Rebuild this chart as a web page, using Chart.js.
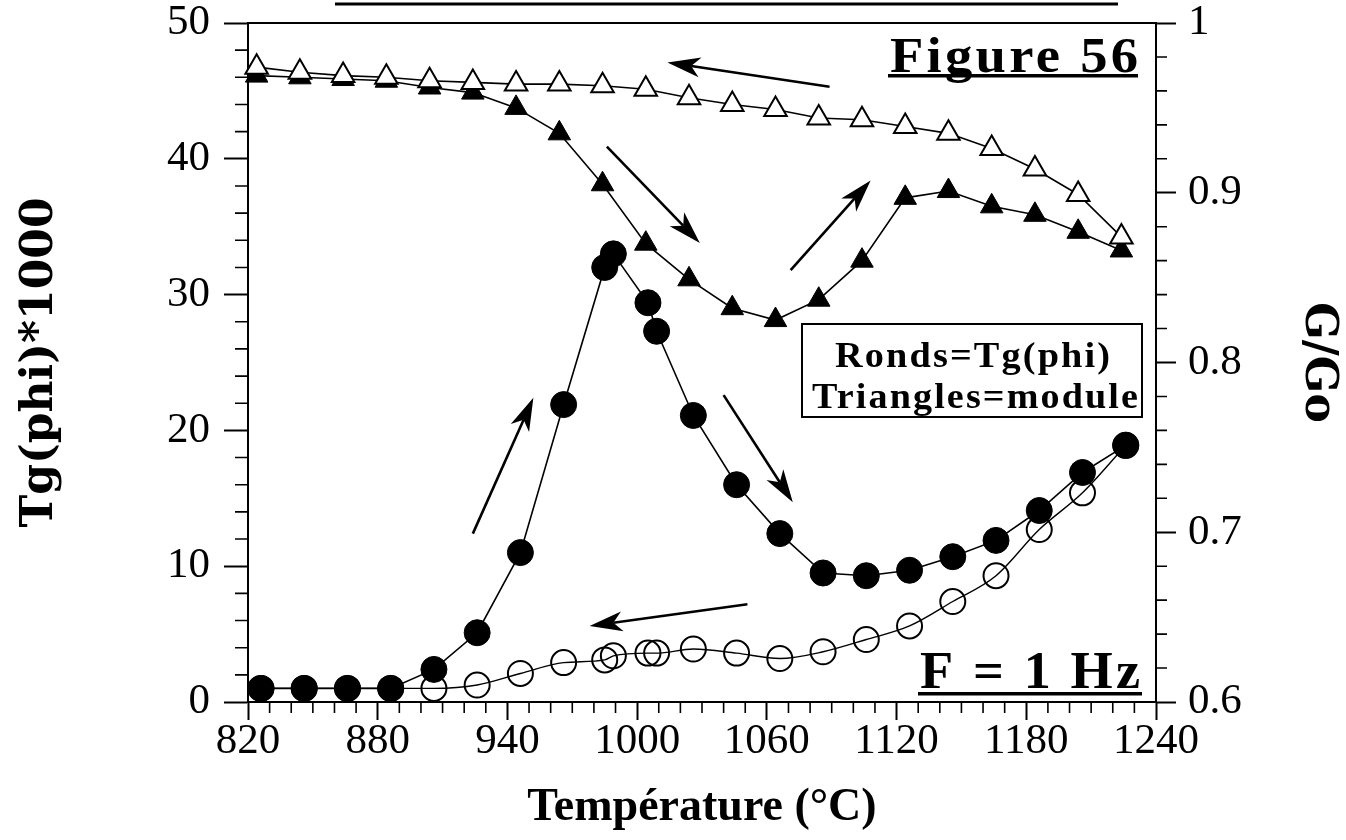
<!DOCTYPE html>
<html>
<head>
<meta charset="utf-8">
<script src="https://cdn.jsdelivr.net/npm/chart.js@4.4.1/dist/chart.umd.min.js"></script>
<style>
  html, body { margin: 0; padding: 0; background: #fff; }
  #wrap { width: 1346px; height: 840px; position: relative; }
</style>
</head>
<body>
<div id="wrap"><canvas id="c"></canvas></div>
<script>
// Internal friction Tg(phi) (left axis, x1000) and relative modulus G/Go (right axis)
// versus temperature, heating (filled marks) and cooling (open marks), F = 1 Hz.
const tempCircles   = [826, 846, 866, 886, 906, 926, 946, 966, 985, 989, 1005, 1009, 1026, 1046, 1066, 1086, 1106, 1126, 1146, 1166, 1186, 1206, 1226];
const tgPhiHeating  = [1.0, 1.0, 1.0, 1.0, 2.4, 5.1, 11.0, 21.9, 32.0, 33.0, 29.4, 27.3, 21.1, 16.0, 12.4, 9.5, 9.3, 9.7, 10.7, 11.9, 14.1, 16.9, 18.9];
const tgPhiCooling  = [1.0, 1.0, 1.0, 1.0, 1.0, 1.25, 2.1, 2.9, 3.1, 3.4, 3.6, 3.6, 3.9, 3.6, 3.2, 3.7, 4.6, 5.6, 7.4, 9.3, 12.7, 15.4, 18.9];

const tempTriangles = [824, 844, 864, 884, 904, 924, 944, 964, 984, 1004, 1024, 1044, 1064, 1084, 1104, 1124, 1144, 1164, 1184, 1204, 1224];
const moduleHeating = [0.969, 0.968, 0.967, 0.966, 0.962, 0.959, 0.950, 0.935, 0.905, 0.870, 0.849, 0.832, 0.825, 0.837, 0.860, 0.897, 0.901, 0.892, 0.887, 0.877, 0.866];
const moduleCooling = [0.974, 0.971, 0.969, 0.968, 0.966, 0.965, 0.964, 0.964, 0.963, 0.961, 0.956, 0.952, 0.949, 0.944, 0.943, 0.939, 0.935, 0.926, 0.914, 0.899, 0.874];

// Axis tick labels
const tempLabels  = [820, 880, 940, 1000, 1060, 1120, 1180, 1240];
const tgLabels    = [0, 10, 20, 30, 40, 50];
const ratioLabels = ['0.6', '0.7', '0.8', '0.9', '1'];

// Direction-of-run arrows, in (temperature, Tg(phi)*1000) units: [from T, from v, to T, to v]
const runArrows = [
  [1089, 45.3, 1014, 47.1],
  [986, 40.9, 1029, 33.8],
  [1071, 31.8, 1108, 38.4],
  [924, 12.4, 952, 22.4],
  [1040, 22.6, 1072, 14.7],
  [1051, 7.2, 978, 5.6]
];

const pts = (xs, ys) => xs.map((x, i) => ({ x: x, y: ys[i] }));

const isTempLabel  = v => tempLabels.includes(Math.round(v));
const isTgLabel    = v => tgLabels.includes(Math.round(v));
const ratioText    = v => { const k = Math.round(v * 100); const t = (k / 100).toString(); return ratioLabels.includes(t) ? t : null; };

const serif = '"Liberation Serif", "Times New Roman", serif';
const wideSerif = '"DejaVu Serif", "Liberation Serif", serif';

// draw text squeezed or stretched horizontally to a given width, right edge at xRight
function fittedText(ctx, text, font, xRight, baseline, width, spacing) {
  ctx.save();
  ctx.font = font;
  ctx.letterSpacing = spacing + 'px';
  const w = ctx.measureText(text).width - spacing;
  const sx = width / w;
  ctx.translate(xRight - width, baseline);
  ctx.scale(sx, 1);
  ctx.textAlign = 'left';
  ctx.textBaseline = 'alphabetic';
  ctx.fillText(text, 0, 0);
  ctx.restore();
}

function arrow(ctx, x0, y0, x1, y1) {
  const ang = Math.atan2(y1 - y0, x1 - x0);
  const len = 33, half = 10, notch = 24;
  ctx.save();
  ctx.lineWidth = 2.6;
  ctx.beginPath();
  ctx.moveTo(x0, y0);
  ctx.lineTo(x1 - Math.cos(ang) * notch, y1 - Math.sin(ang) * notch);
  ctx.stroke();
  ctx.translate(x1, y1);
  ctx.rotate(ang);
  ctx.beginPath();
  ctx.moveTo(0, 0);
  ctx.lineTo(-len, -half);
  ctx.lineTo(-notch, 0);
  ctx.lineTo(-len, half);
  ctx.closePath();
  ctx.fill();
  ctx.restore();
}

const decorations = {
  id: 'decorations',
  afterDraw(chart) {
    const { ctx, chartArea: a, scales } = chart;
    const sx = scales.x, sy = scales.y, sy1 = scales.y1;
    ctx.save();
    ctx.strokeStyle = '#000';
    ctx.fillStyle = '#000';

    // top edge of the frame
    ctx.lineWidth = 2;
    ctx.beginPath();
    ctx.moveTo(a.left, a.top);
    ctx.lineTo(a.right, a.top);
    ctx.stroke();

    // minor ticks
    ctx.lineWidth = 1.6;
    ctx.beginPath();
    for (let v = 830; v < 1240; v += 10) {
      if (isTempLabel(v)) continue;
      const p = sx.getPixelForValue(v);
      ctx.moveTo(p, a.bottom); ctx.lineTo(p, a.bottom + 11);
    }
    for (let v = 2; v < 50; v += 2) {
      if (v % 10 === 0) continue;
      const p = sy.getPixelForValue(v);
      ctx.moveTo(a.left, p); ctx.lineTo(a.left - 13, p);
    }
    for (let k = 31; k < 50; k++) {
      if (k % 5 === 0) continue;
      const p = sy1.getPixelForValue(k / 50);
      ctx.moveTo(a.right, p); ctx.lineTo(a.right + 11, p);
    }
    ctx.stroke();

    // run direction arrows
    runArrows.forEach(r => {
      arrow(ctx, sx.getPixelForValue(r[0]), sy.getPixelForValue(r[1]),
                 sx.getPixelForValue(r[2]), sy.getPixelForValue(r[3]));
    });

    // underline of the page heading above the frame
    ctx.lineWidth = 3;
    ctx.beginPath();
    ctx.moveTo(335, 4); ctx.lineTo(1118, 4);
    ctx.stroke();

    // figure number
    fittedText(ctx, 'Figure 56', 'bold 50px ' + serif, 1138, 72, 248, 3);
    ctx.fillRect(888, 74, 250, 3.5);

    // frequency
    fittedText(ctx, 'F = 1 Hz', 'bold 52px ' + serif, 1140, 688, 220, 3);
    ctx.fillRect(918, 692, 224, 3.5);

    // key
    ctx.lineWidth = 2;
    ctx.fillStyle = '#fff';
    ctx.fillRect(802, 324, 340, 93);
    ctx.strokeRect(802, 324, 340, 93);
    ctx.fillStyle = '#000';
    fittedText(ctx, 'Ronds=Tg(phi)', 'bold 36px ' + serif, 1110, 367, 275, 2);
    fittedText(ctx, 'Triangles=module', 'bold 36px ' + serif, 1138, 408, 326, 2);

    ctx.restore();
  }
};

const tickFont = { family: serif, size: 43 };
const noVerticalOverflow = s => { s.paddingTop = 0; s.paddingBottom = 0; };

new Chart(document.getElementById('c'), {
  type: 'line',
  data: {
    datasets: [
      {
        label: 'Tg(phi) chauffage',
        data: pts(tempCircles, tgPhiHeating),
        yAxisID: 'y',
        order: 3,
        borderColor: '#000', borderWidth: 1.6,
        pointStyle: 'circle', pointRadius: 13, pointHoverRadius: 13,
        pointBackgroundColor: '#000', pointBorderColor: '#000', pointBorderWidth: 1,
        tension: 0, clip: false
      },
      {
        label: 'Tg(phi) refroidissement',
        data: pts(tempCircles, tgPhiCooling),
        yAxisID: 'y',
        order: 4,
        borderColor: '#000', borderWidth: 1.4,
        pointStyle: 'circle', pointRadius: 12.5, pointHoverRadius: 12.5,
        pointBackgroundColor: 'rgba(0,0,0,0)', pointBorderColor: '#000', pointBorderWidth: 2,
        cubicInterpolationMode: 'monotone', clip: false
      },
      {
        label: 'G/Go chauffage',
        data: pts(tempTriangles, moduleHeating),
        yAxisID: 'y1',
        order: 2,
        borderColor: '#000', borderWidth: 1.6,
        pointStyle: 'triangle', pointRadius: 13, pointHoverRadius: 13,
        pointBackgroundColor: '#000', pointBorderColor: '#000', pointBorderWidth: 1,
        tension: 0, clip: false
      },
      {
        label: 'G/Go refroidissement',
        data: pts(tempTriangles, moduleCooling),
        yAxisID: 'y1',
        order: 1,
        borderColor: '#000', borderWidth: 1.6,
        pointStyle: 'triangle', pointRadius: 13, pointHoverRadius: 13,
        pointBackgroundColor: '#fff', pointBorderColor: '#000', pointBorderWidth: 2,
        tension: 0, clip: false
      }
    ]
  },
  options: {
    responsive: true,
    maintainAspectRatio: false,
    animation: false,
    events: [],
    layout: { padding: { top: 23, left: 0, right: 0, bottom: 0 } },
    plugins: { legend: { display: false }, tooltip: { enabled: false }, title: { display: false } },
    scales: {
      x: {
        type: 'linear', position: 'bottom', min: 820, max: 1240,
        afterFit: s => { s.height = 138; s.paddingLeft = 0; s.paddingRight = 0; },
        border: { display: true, color: '#000', width: 2 },
        grid: {
          drawOnChartArea: false, drawTicks: true, tickLength: 18, tickWidth: 2,
          tickColor: c => (c.tick && isTempLabel(c.tick.value)) ? '#000' : 'rgba(0,0,0,0)'
        },
        ticks: {
          stepSize: 10, autoSkip: false, maxRotation: 0, padding: -4, color: '#000', font: tickFont,
          callback: v => isTempLabel(v) ? String(Math.round(v)) : ''
        },
        title: {
          display: true, text: 'Température (°C)', color: '#000',
          font: { family: serif, size: 46, weight: 'bold' }, padding: { top: 0, bottom: 4 }
        }
      },
      y: {
        type: 'linear', position: 'left', min: 0, max: 50,
        afterFit: s => { s.width = 248; noVerticalOverflow(s); },
        border: { display: true, color: '#000', width: 2 },
        grid: {
          drawOnChartArea: false, drawTicks: true, tickLength: 24, tickWidth: 2,
          tickColor: c => (c.tick && isTgLabel(c.tick.value)) ? '#000' : 'rgba(0,0,0,0)'
        },
        ticks: {
          stepSize: 2, autoSkip: false, padding: 14, color: '#000', font: tickFont,
          callback: v => isTgLabel(v) ? String(Math.round(v)) : ''
        },
        title: {
          display: true, text: 'Tg(phi)*1000', color: '#000',
          font: { family: wideSerif, size: 44, weight: 'bold' }, padding: { top: 14, bottom: 0 }
        }
      },
      y1: {
        type: 'linear', position: 'right', min: 0.6, max: 1.0,
        afterFit: s => { s.width = 190; noVerticalOverflow(s); },
        border: { display: true, color: '#000', width: 2 },
        grid: {
          drawOnChartArea: false, drawTicks: true, tickLength: 20, tickWidth: 2,
          tickColor: c => (c.tick && ratioText(c.tick.value)) ? '#000' : 'rgba(0,0,0,0)'
        },
        ticks: {
          stepSize: 0.02, autoSkip: false, padding: 12, color: '#000', font: tickFont,
          callback: v => ratioText(v) || ''
        },
        title: {
          display: true, text: 'G/Go', color: '#000',
          font: { family: wideSerif, size: 44, weight: 'bold' }, padding: { top: 2, bottom: 0 }
        }
      }
    }
  },
  plugins: [decorations]
});
</script>
</body>
</html>
